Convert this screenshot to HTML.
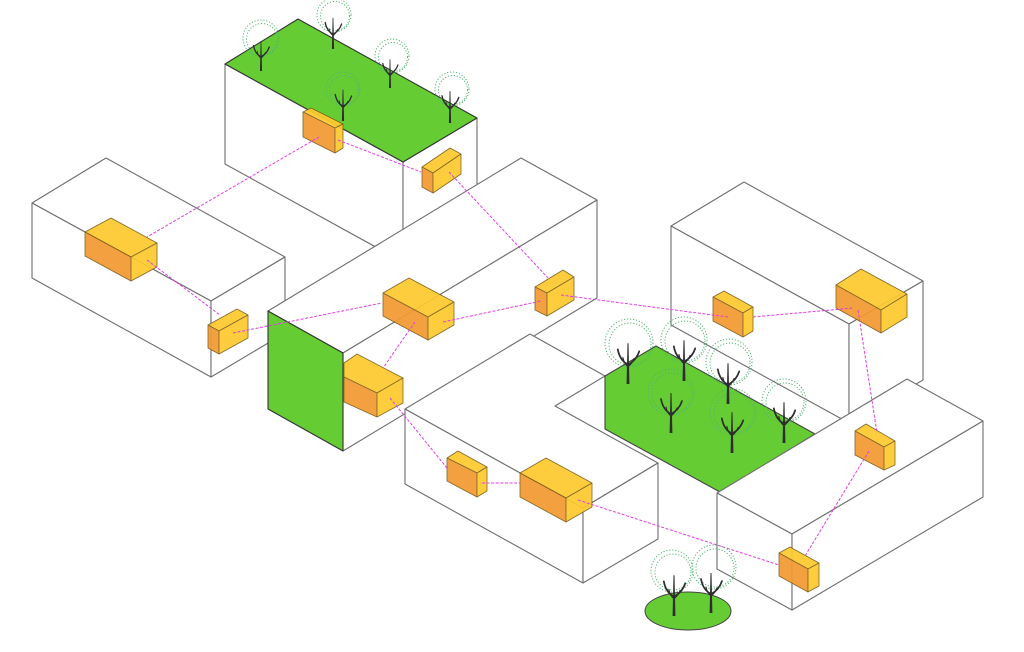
<!DOCTYPE html>
<html>
<head>
<meta charset="utf-8">
<style>
html,body{margin:0;padding:0;background:#fff;}
svg{display:block;}
.w{fill:#fff;stroke:#6e6e6e;stroke-width:1.1;stroke-linejoin:round;}
.g{fill:#66cc33;stroke:#333;stroke-width:1.1;stroke-linejoin:round;}
.bx polygon{stroke:#7a5c18;stroke-width:0.8;stroke-linejoin:round;}
.o{fill:#f39a32;}
.y{fill:#fdca30;}
.c line{stroke:#e23de2;stroke-width:1;stroke-dasharray:3 1.6;}
.cn circle{fill:none;stroke:#4fb46f;stroke-width:1;stroke-dasharray:1.2 1.8;}
</style>
</head>
<body>
<svg width="1024" height="652" viewBox="0 0 1024 652" xmlns="http://www.w3.org/2000/svg">
<defs>
  <g id="tree">
    <polygon points="-1.4,0 -0.5,-40 0.5,-40 1.4,0" fill="#2e2e2e"/>
    <path d="M0,-19 Q-8,-23 -10,-34" stroke="#2e2e2e" stroke-width="1.7" fill="none" stroke-linecap="round"/>
    <path d="M0,-19 Q8,-23 11,-32" stroke="#2e2e2e" stroke-width="1.7" fill="none" stroke-linecap="round"/>
    <path d="M0,-17 Q-4,-20 -5,-26" stroke="#2e2e2e" stroke-width="1.1" fill="none" stroke-linecap="round"/>
    <path d="M0,-17 Q4,-20 6,-25" stroke="#2e2e2e" stroke-width="1.1" fill="none" stroke-linecap="round"/>
  </g>
</defs>

<!-- Building 1 (green roof) -->
<polygon class="w" points="225,64 403,162 403,262 225,164"/>
<polygon class="w" points="403,162 477,118 477,218 403,262"/>
<polygon class="g" points="225,64 298,19 477,118 403,162"/>

<!-- Building 2 -->
<polygon class="w" points="32,203 106,158 285,257 211,301"/>
<polygon class="w" points="32,203 211,301 211,377 32,278"/>
<polygon class="w" points="211,301 285,257 285,333 211,377"/>

<!-- Building 3 -->
<polygon class="w" points="268,311 521,158 597,200 343,353"/>
<polygon class="w" points="343,353 597,200 597,298 343,451"/>
<polygon class="g" points="268,311 343,353 343,451 268,409"/>

<!-- Building 5 -->
<polygon class="w" points="671,226 744,182 923,281 849,324"/>
<polygon class="w" points="671,226 849,324 849,423 671,325"/>
<polygon class="w" points="849,324 923,281 923,380 849,423"/>

<!-- Building 4 -->
<polygon class="w" points="405,409 530,334 605,376 555,406 658,463 583,508"/>
<polygon class="w" points="405,409 583,508 583,583 405,484"/>
<polygon class="w" points="583,508 658,463 658,539 583,583"/>

<!-- Courtyard -->
<polygon class="g" style="stroke:#444" points="605,376 656,346 815,434 720,492 605,429"/>

<!-- Building 6 -->
<polygon class="w" points="717,493 907,379 983,421 792,534"/>
<polygon class="w" points="717,493 792,534 792,610 717,569"/>
<polygon class="w" points="792,534 983,421 983,497 792,610"/>

<!-- Ground ellipse -->
<ellipse cx="688" cy="611" rx="43" ry="19" fill="#66cc33" stroke="#444" stroke-width="1"/>

<!-- Boxes -->
<g class="bx" opacity="0.93">
  <!-- A -->
  <polygon class="y" points="303,112 311,108 343,124 335,128"/>
  <polygon class="o" points="303,112 335,128 335,153 303,137"/>
  <polygon class="y" points="335,128 343,124 343,148 335,153"/>
  <!-- B -->
  <polygon class="y" points="422,167 450,148 461,154 433,173"/>
  <polygon class="o" points="422,167 433,173 433,193 422,187"/>
  <polygon class="y" points="433,173 461,154 461,174 433,193"/>
  <!-- C -->
  <polygon class="y" points="85,232 111,218 157,243 131,257"/>
  <polygon class="o" points="85,232 131,257 131,281 85,256"/>
  <polygon class="y" points="131,257 157,243 157,267 131,281"/>
  <!-- D -->
  <polygon class="y" points="208,325 237,309 248,315 219,331"/>
  <polygon class="o" points="208,325 219,331 219,354 208,348"/>
  <polygon class="y" points="219,331 248,315 248,338 219,354"/>
  <!-- E -->
  <polygon class="y" points="383,293 409,278 454,302 428,317"/>
  <polygon class="o" points="383,293 428,317 428,340 383,316"/>
  <polygon class="y" points="428,317 454,302 454,325 428,340"/>
  <!-- F -->
  <polygon class="y" points="344,363 357,354 403,378 377,393 344,377"/>
  <polygon class="o" points="344,377 377,393 377,417 344,402"/>
  <polygon class="y" points="377,393 403,378 403,403 377,417"/>
  <!-- G -->
  <polygon class="y" points="535,287 563,270 574,277 547,293"/>
  <polygon class="o" points="535,287 547,293 547,316 535,310"/>
  <polygon class="y" points="547,293 574,277 574,300 547,316"/>
  <!-- H -->
  <polygon class="y" points="713,297 724,291 753,307 743,313"/>
  <polygon class="o" points="713,297 743,313 743,337 713,321"/>
  <polygon class="y" points="743,313 753,307 753,331 743,337"/>
  <!-- I -->
  <polygon class="y" points="836,285 861,269 907,294 881,310"/>
  <polygon class="o" points="836,285 881,310 881,333 836,308"/>
  <polygon class="y" points="881,310 907,294 907,317 881,333"/>
  <!-- J -->
  <polygon class="y" points="855,431 866,424 895,441 884,447"/>
  <polygon class="o" points="855,431 884,447 884,470 855,455"/>
  <polygon class="y" points="884,447 895,441 895,465 884,470"/>
  <!-- K -->
  <polygon class="y" points="779,553 790,547 819,563 808,569"/>
  <polygon class="o" points="779,553 808,569 808,592 779,576"/>
  <polygon class="y" points="808,569 819,563 819,586 808,592"/>
  <!-- L -->
  <polygon class="y" points="447,458 458,451 487,467 477,473"/>
  <polygon class="o" points="447,458 477,473 477,497 447,481"/>
  <polygon class="y" points="477,473 487,467 487,491 477,497"/>
  <!-- M -->
  <polygon class="y" points="520,473 546,458 592,483 566,498"/>
  <polygon class="o" points="520,473 566,498 566,522 520,497"/>
  <polygon class="y" points="566,498 592,483 592,507 566,522"/>
</g>

<!-- Connectors -->
<g class="c">
  <line x1="319" y1="137" x2="147" y2="237"/>
  <line x1="338" y1="140" x2="421" y2="172"/>
  <line x1="449" y1="172" x2="548" y2="278"/>
  <line x1="147" y1="260" x2="220" y2="315"/>
  <line x1="233" y1="333" x2="382" y2="303"/>
  <line x1="443" y1="322" x2="541" y2="301"/>
  <line x1="415" y1="322" x2="383" y2="368"/>
  <line x1="390" y1="398" x2="447" y2="468"/>
  <line x1="482" y1="483" x2="520" y2="483"/>
  <line x1="578" y1="500" x2="779" y2="565"/>
  <line x1="561" y1="295" x2="728" y2="317"/>
  <line x1="753" y1="317" x2="853" y2="308"/>
  <line x1="858" y1="310" x2="877" y2="433"/>
  <line x1="869" y1="451" x2="805" y2="556"/>
</g>

<!-- Tree canopies -->
<g class="cn">
  <circle cx="261" cy="38" r="18"/><circle cx="262" cy="39" r="15.5"/>
  <circle cx="334" cy="15" r="17"/><circle cx="335" cy="16" r="14.5"/>
  <circle cx="392" cy="56" r="17"/><circle cx="393" cy="57" r="14.5"/>
  <circle cx="343" cy="89" r="17"/><circle cx="344" cy="90" r="14.5"/>
  <circle cx="452" cy="89" r="17"/><circle cx="453" cy="90" r="14.5"/>

  <circle cx="629" cy="343" r="24"/><circle cx="630" cy="344" r="21"/>
  <circle cx="684" cy="340" r="23"/><circle cx="685" cy="341" r="20"/>
  <circle cx="729" cy="362" r="23"/><circle cx="730" cy="363" r="20"/>
  <circle cx="671" cy="392" r="23"/><circle cx="672" cy="393" r="20"/>
  <circle cx="733" cy="412" r="23"/><circle cx="734" cy="413" r="20"/>
  <circle cx="784" cy="401" r="22"/><circle cx="785" cy="402" r="19"/>

  <circle cx="672" cy="571" r="21"/><circle cx="673" cy="572" r="18"/>
  <circle cx="714" cy="567" r="22"/><circle cx="715" cy="568" r="19"/>
</g>

<!-- Tree trunks -->
<g>
  <use href="#tree" transform="translate(261,71) scale(0.75)"/>
  <use href="#tree" transform="translate(333,49) scale(0.78)"/>
  <use href="#tree" transform="translate(390,88) scale(0.72)"/>
  <use href="#tree" transform="translate(343,121) scale(0.78)"/>
  <use href="#tree" transform="translate(450,123) scale(0.8)"/>

  <use href="#tree" transform="translate(628,384) scale(1.02)"/>
  <use href="#tree" transform="translate(684,381) scale(1.02)"/>
  <use href="#tree" transform="translate(728,404) scale(1.02)"/>
  <use href="#tree" transform="translate(671,433) scale(1.0)"/>
  <use href="#tree" transform="translate(732,453) scale(1.02)"/>
  <use href="#tree" transform="translate(784,443) scale(1.02)"/>

  <use href="#tree" transform="translate(674,616) scale(1.02)"/>
  <use href="#tree" transform="translate(711,613) scale(1.0)"/>
</g>
</svg>
</body>
</html>
